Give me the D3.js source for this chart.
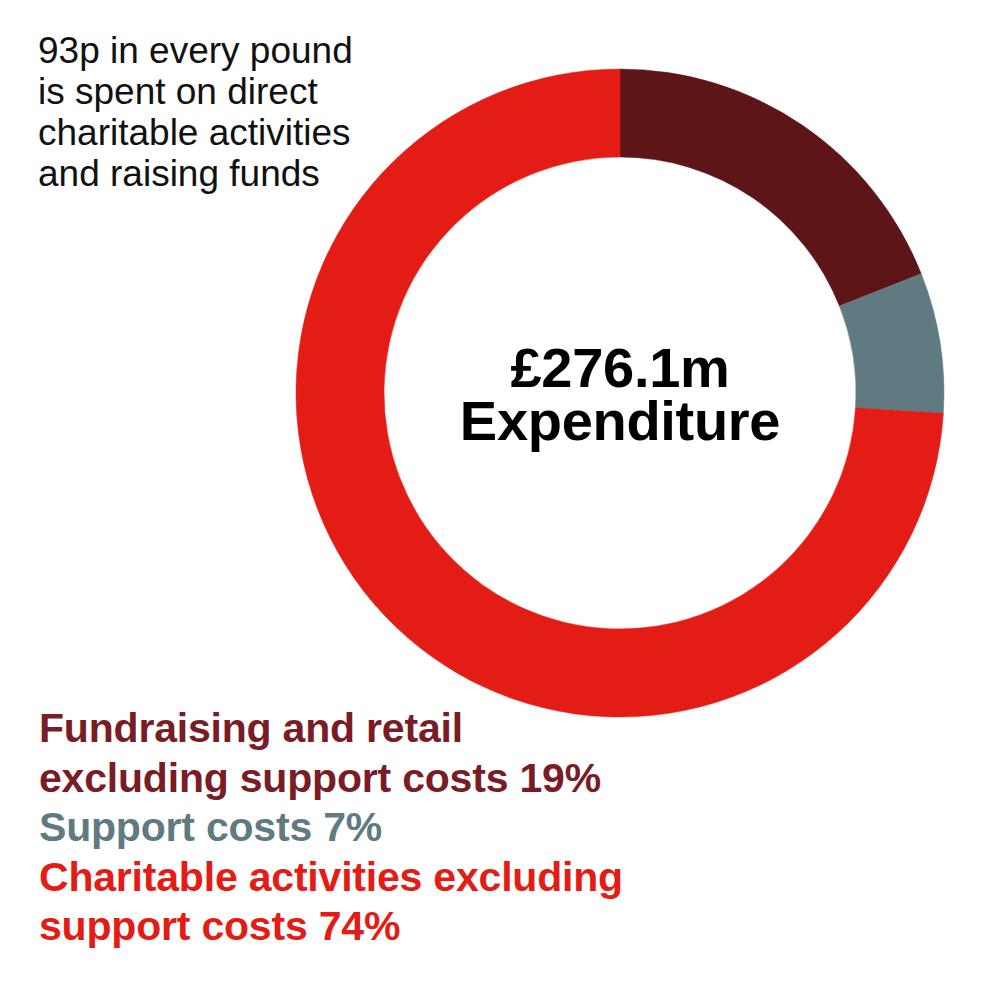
<!DOCTYPE html>
<html>
<head>
<meta charset="utf-8">
<script src="https://cdn.jsdelivr.net/npm/d3@7"></script>
<style>
  html, body { margin: 0; padding: 0; background: #fff; }
  svg { display: block; }
</style>
</head>
<body>
<svg id="chart" width="992" height="992"></svg>
<script>
const categories = ["Fundraising and retail excluding support costs", "Support costs", "Charitable activities excluding support costs"];
const values = [19, 7, 74];
const sliceColors = ["#5e1518", "#5f7b81", "#e31c15"];
const labelColors = ["#7a1c25", "#5f7b81", "#e31c15"];
const legendLines = [
  ["Fundraising and retail", "excluding support costs 19%"],
  ["Support costs 7%"],
  ["Charitable activities excluding", "support costs 74%"]
];
const introLines = ["93p in every pound", "is spent on direct", "charitable activities", "and raising funds"];
const centerLines = ["£276.1m", "Expenditure"];

const svg = d3.select("#chart");
const cx = 620, cy = 393, outerR = 324, innerR = 236;

const pie = d3.pie().sort(null).value(d => d);
const arc = d3.arc().innerRadius(innerR).outerRadius(outerR);

const g = svg.append("g").attr("transform", `translate(${cx},${cy})`);
g.selectAll("path")
  .data(pie(values))
  .join("path")
  .attr("d", arc)
  .attr("fill", (d, i) => sliceColors[i])
  .attr("stroke", (d, i) => sliceColors[i])
  .attr("stroke-width", 0.5);

// center text (one text element, two lines)
const center = g.append("text")
  .attr("text-anchor", "middle")
  .attr("font-family", "'Liberation Sans', Arial, Helvetica, sans-serif")
  .attr("font-weight", "bold")
  .attr("font-size", 56)
  .attr("letter-spacing", -0.3)
  .attr("fill", "#000");
center.selectAll("tspan")
  .data(centerLines)
  .join("tspan")
  .attr("x", 0)
  .attr("y", (d, i) => -6 + i * 53)
  .text(d => d);

// intro text
svg.selectAll("text.intro")
  .data(introLines)
  .join("text")
  .attr("class", "intro")
  .attr("x", 38)
  .attr("y", (d, i) => 63 + i * 41)
  .attr("font-family", "'Liberation Sans', Arial, Helvetica, sans-serif")
  .attr("font-size", 37)
  .attr("fill", "#111")
  .text(d => d);

// legend
const flat = [];
legendLines.forEach((lines, i) => lines.forEach(t => flat.push({ t, i })));
svg.selectAll("text.legend")
  .data(flat)
  .join("text")
  .attr("class", "legend")
  .attr("x", 39)
  .attr("y", (d, k) => 742 + k * 49.5)
  .attr("font-family", "'Liberation Sans', Arial, Helvetica, sans-serif")
  .attr("font-weight", "bold")
  .attr("font-size", 41)
  .attr("letter-spacing", -0.2)
  .attr("fill", d => labelColors[d.i])
  .text(d => d.t);
</script>
</body>
</html>
